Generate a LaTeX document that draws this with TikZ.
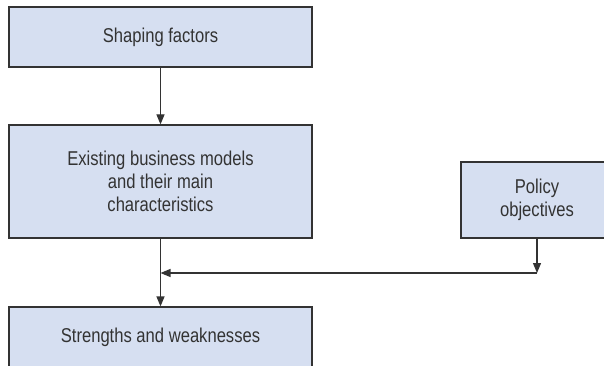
\documentclass[tikz,border=0pt]{standalone}
\usepackage{fontspec}
\setmainfont{Liberation Sans}[FakeStretch=0.83]
\usetikzlibrary{arrows.meta}
\definecolor{boxfill}{RGB}{214,223,241}
\definecolor{boxline}{RGB}{51,51,51}
\tikzset{
  stage/.style={draw=boxline,fill=boxfill,line width=1.2pt,text=boxline,
    align=center,inner sep=0pt,font=\fontsize{20}{23}\selectfont},
  flow/.style={draw=boxline,line width=1.2pt,-{Triangle[length=10pt,width=8pt]}}
}
\begin{document}
\begin{tikzpicture}[x=1pt,y=-1pt]
                \clip (0,0) rectangle (604,366);
                \fill[white] (0,0) rectangle (604,366);
                \node[stage,minimum width=303pt,minimum height=60pt] (shaping) at (160.5,37) {Shaping factors};
                \node[stage,minimum width=303pt,minimum height=113pt] (models) at (160.5,181.5) {Existing business models\\and their main\\characteristics};
                \node[stage,minimum width=303pt,minimum height=60pt] (strengths) at (160.5,337) {Strengths and weaknesses};
                \node[stage,minimum width=152pt,minimum height=76pt] (policy) at (537,200) {Policy\\objectives};
                \coordinate (corner) at (policy.south |- 0,273);
                \coordinate (join) at (models.south |- corner);
                \draw[flow] (shaping) -- (models);
                \draw[flow] (models) -- (strengths);
                \draw[flow] (policy) -- (corner);
                \draw[flow] (corner) -- (join);
            \end{tikzpicture}
\end{document}
